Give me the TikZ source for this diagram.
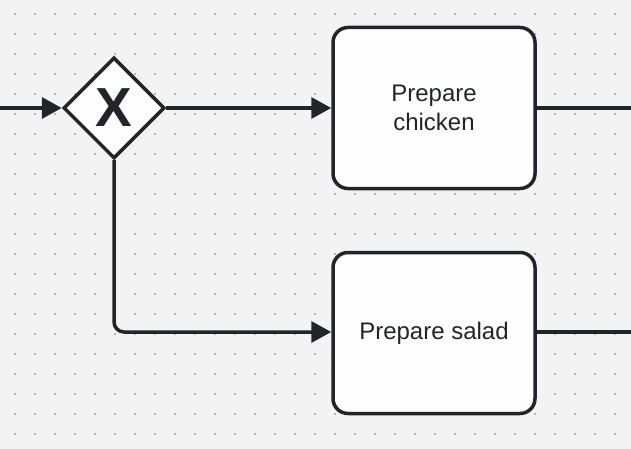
\documentclass[tikz,border=0pt]{standalone}
\usepackage{fontspec}
\setmainfont{Liberation Sans}
\usetikzlibrary{arrows.meta,shapes.geometric}
\definecolor{bg}{HTML}{F3F3F3}
\definecolor{ink}{HTML}{22242A}
\definecolor{dotc}{HTML}{B4B4B4}
\begin{document}
\begin{tikzpicture}[x=1pt,y=-1pt,
  flow/.style={draw=ink,line width=3.5pt},
  arr/.style={flow,-{Triangle[length=20pt,width=21pt]}},
  task/.style={draw=ink,line width=3.5pt,fill=white,fill opacity=0.92,text opacity=1,rounded corners=15pt,minimum width=202pt,minimum height=161pt,align=center,font=\fontsize{24}{29}\selectfont,text=ink,inner sep=0pt},
  gate/.style={draw=ink,line width=3.5pt,fill=white,fill opacity=0.92,diamond,minimum width=101pt,minimum height=101pt,inner sep=0pt,aspect=1}]
\fill[bg] (0,0) rectangle (631,449);
\useasboundingbox (0,0) rectangle (631,449);
\foreach \i in {0,...,31}{\foreach \j in {0,...,22}{
  \fill[dotc] (15+20*\i-1,14+20*\j-1) rectangle +(2,2);}}
\coordinate (start) at (0,108);
\coordinate (end1) at (631,108);
\coordinate (end2) at (631,332);
\coordinate (corner) at (114,332);
\node[gate] (g) at (114,108) {};
\node[text=ink,font=\fontsize{55}{55}\selectfont\bfseries] (gx) at (114,108) {X};
\node[task] (chicken) at (434,108) {Prepare\\chicken};
\node[task] (salad) at (434,333) {Prepare salad};
\draw[arr] (start) -- (g.west);
\draw[arr] (g.east) -- (chicken.west);
\draw[arr,rounded corners=10pt] (g.south) -- (corner) -- (salad.west |- corner);
\draw[flow] (chicken.east) -- (end1);
\draw[flow] (salad.east |- end2) -- (end2);
\end{tikzpicture}
\end{document}
